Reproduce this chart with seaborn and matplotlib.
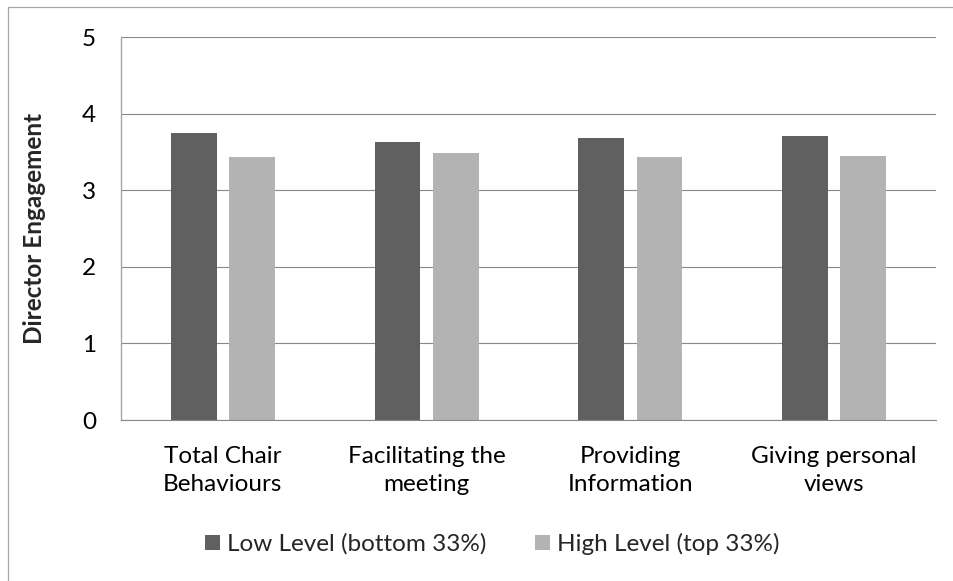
import matplotlib
matplotlib.use("Agg")
import matplotlib.pyplot as plt
import seaborn as sns
import pandas as pd
from matplotlib.patches import Rectangle, Patch

categories = ["Total Chair\nBehaviours", "Facilitating the\nmeeting",
              "Providing\nInformation", "Giving personal\nviews"]
low_level = [3.75, 3.63, 3.68, 3.71]
high_level = [3.43, 3.49, 3.44, 3.45]
series_names = ["Low Level (bottom 33%)", "High Level (top 33%)"]
y_ticks = [0, 1, 2, 3, 4, 5]
y_label = "Director Engagement"

colors = ["#606060", "#b3b3b3"]

df = pd.DataFrame({
    "category": categories * 2,
    "value": low_level + high_level,
    "series": [series_names[0]] * len(categories) + [series_names[1]] * len(categories),
})

sns.set_theme(style="white")
plt.rcParams["font.family"] = ["Lato", "DejaVu Sans"]

fig = plt.figure(figsize=(9.54, 5.81), dpi=100)
ax = fig.add_axes([0.1268, 0.2771, 0.9811 - 0.1268, 0.9358 - 0.2771])

sns.barplot(data=df, x="category", y="value", hue="series", order=categories,
            hue_order=series_names, palette=colors, width=0.573, gap=0.217,
            saturation=1, linewidth=0, ax=ax, legend=False)

ax.set_ylim(0, 5)
ax.set_xlim(-0.5, len(categories) - 0.5)
ax.set_yticks(y_ticks)
ax.yaxis.grid(True, color="#878787", linewidth=0.8)
ax.set_axisbelow(True)
for side in ("top", "right"):
    ax.spines[side].set_visible(False)
ax.spines["left"].set_color("#a6a6a6")
ax.spines["left"].set_linewidth(1.0)
ax.spines["bottom"].set_color("#878787")
ax.spines["bottom"].set_linewidth(0.8)

ax.tick_params(axis="both", length=0, labelsize=17.5, colors="black")
ax.tick_params(axis="y", pad=18)
ax.tick_params(axis="x", pad=19)
for lbl in ax.get_xticklabels():
    lbl.set_linespacing(1.4)

ax.set_xlabel("")
ax.set_ylabel(y_label, fontsize=17.5, fontweight="bold", labelpad=26)

handles = [Patch(facecolor=c, edgecolor="none") for c in colors]
fig.legend(handles, series_names, loc="center", bbox_to_anchor=(0.516, 0.0637),
           ncol=2, frameon=False, fontsize=17.5, handlelength=0.62, handleheight=0.62,
           handletextpad=0.3, columnspacing=2.0)

# outer chart-area frame
fig.patches.append(Rectangle((8.5 / 954, -0.01), 1.05, 1 - 7.5 / 581 + 0.01,
                             transform=fig.transFigure, fill=False,
                             edgecolor="#a6a6a6", linewidth=0.9))

fig.savefig("out.png", dpi=100)
